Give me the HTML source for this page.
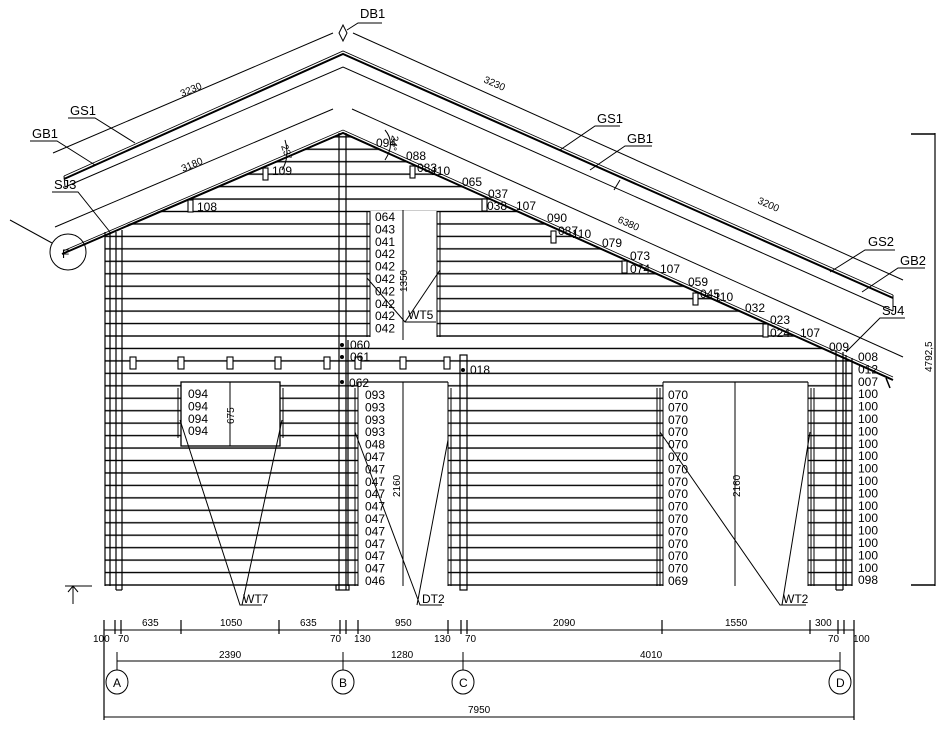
<!DOCTYPE html>
<html><head><meta charset="utf-8"><style>
html,body{margin:0;padding:0;background:#fff;}
svg{display:block;}
text{font-family:"Liberation Sans",sans-serif;font-size:12px;fill:#000;}
.s{font-size:10px;}
</style></head><body>
<svg width="949" height="733" viewBox="0 0 949 733" xmlns="http://www.w3.org/2000/svg">
<defs>
<pattern id="logs" patternUnits="userSpaceOnUse" width="949" height="12.45" patternTransform="translate(0,585)">
<rect x="0" y="-0.7" width="949" height="1.4" fill="#000"/>
<rect x="0" y="11.75" width="949" height="1.4" fill="#000"/>
</pattern>
<clipPath id="wall"><polygon points="105,586 105,234 343,133 852,361 852,586"/></clipPath>
</defs>
<g fill="none" stroke="#000" stroke-width="1">
<rect x="100" y="120" width="760" height="470" fill="url(#logs)" stroke="none" clip-path="url(#wall)"/>
<rect x="181" y="382" width="99" height="64" fill="#fff" stroke="#000" stroke-width="1.3"/>
<rect x="358" y="382" width="90" height="204" fill="#fff" stroke="none"/>
<line x1="358" y1="382" x2="448" y2="382" stroke-width="1.3"/>
<rect x="370" y="211" width="67" height="126" fill="#fff" stroke="none"/>
<rect x="663" y="382" width="145" height="204" fill="#fff" stroke="none"/>
<line x1="663" y1="382" x2="808" y2="382" stroke-width="1.3"/>
<line x1="178" y1="388" x2="178" y2="438"/><line x1="181" y1="388" x2="181" y2="446"/>
<line x1="280" y1="388" x2="280" y2="446"/><line x1="283" y1="388" x2="283" y2="438"/>
<line x1="355" y1="388" x2="355" y2="586"/><line x1="358" y1="382" x2="358" y2="586"/>
<line x1="448" y1="382" x2="448" y2="586"/><line x1="451" y1="388" x2="451" y2="586"/>
<line x1="367" y1="211" x2="367" y2="337"/><line x1="370" y1="211" x2="370" y2="337"/>
<line x1="437" y1="211" x2="437" y2="337"/><line x1="440" y1="211" x2="440" y2="337"/>
<line x1="657" y1="388" x2="657" y2="586"/><line x1="660" y1="388" x2="660" y2="586"/><line x1="663" y1="382" x2="663" y2="586"/>
<line x1="808" y1="382" x2="808" y2="586"/><line x1="811" y1="388" x2="811" y2="586"/><line x1="814" y1="388" x2="814" y2="586"/>
<g stroke-width="1.2">
<line x1="105" y1="232" x2="105" y2="586"/><line x1="110" y1="232" x2="110" y2="586"/><line x1="116" y1="232" x2="116" y2="590"/><line x1="122" y1="230" x2="122" y2="590"/>
<line x1="116" y1="590" x2="122" y2="590"/>
<line x1="339" y1="133" x2="339" y2="590"/><line x1="346" y1="133" x2="346" y2="590"/><line x1="348" y1="340" x2="348" y2="586"/>
<rect x="336" y="585" width="13" height="5"/>
<rect x="460" y="355" width="7" height="235"/>
<line x1="836" y1="350" x2="836" y2="590"/><line x1="843" y1="352" x2="843" y2="590"/><line x1="846" y1="355" x2="846" y2="586"/><line x1="852" y1="358" x2="852" y2="586"/>
<line x1="836" y1="590" x2="843" y2="590"/>
</g>
<g fill="#fff" stroke-width="1.1">
<rect x="130" y="357" width="6" height="12"/><rect x="178" y="357" width="6" height="12"/><rect x="227" y="357" width="6" height="12"/><rect x="275" y="357" width="6" height="12"/><rect x="324" y="357" width="6" height="12"/><rect x="355" y="357" width="6" height="12"/><rect x="400" y="357" width="6" height="12"/><rect x="444" y="357" width="6" height="12"/>
<rect x="188" y="200" width="5" height="12"/><rect x="263" y="168" width="5" height="12"/><rect x="410" y="166" width="5" height="12"/><rect x="482" y="199" width="5" height="12"/><rect x="551" y="231" width="5" height="12"/><rect x="622" y="261" width="5" height="12"/><rect x="693" y="293" width="5" height="12"/><rect x="763" y="324" width="5" height="13"/>
</g>
<g fill="#000" stroke="none"><circle cx="342" cy="345" r="2"/><circle cx="342" cy="357" r="2"/><circle cx="342" cy="382" r="2"/><circle cx="463" cy="370" r="2"/></g>
<!-- roof -->
<polyline points="62,254 343,133 893,380" stroke-width="2"/>
<polyline points="63,251 343,130 893,377" stroke-width="0.8"/>
<polyline points="64,179 343,54 893,298" stroke-width="2"/>
<polyline points="64,176 343,51 893,295" stroke-width="0.8"/>
<polyline points="65,187 343,67 893,311"/>
<line x1="64" y1="176" x2="65" y2="187"/><line x1="893" y1="295" x2="893" y2="311"/>
<line x1="886" y1="378" x2="890" y2="388" stroke-width="1.5"/>
<line x1="53" y1="153" x2="333" y2="33"/><line x1="353" y1="33" x2="903" y2="280"/>
<line x1="55" y1="227" x2="333" y2="109"/><line x1="352" y1="109" x2="903" y2="357"/>
<line x1="614" y1="190" x2="620" y2="180"/>
<path d="M285,140 Q290,157 282,170"/><path d="M385,130 Q396,143 385,160"/>
<polygon points="343,25 347,33 343,41 339,33"/>
<polyline points="347,30 358,23 382,23"/>
<polyline points="68,118 95,118 135,143"/>
<polyline points="30,141 57,141 95,165"/>
<polyline points="52,192 78,192 110,232"/>
<circle cx="68" cy="252" r="18"/>
<line x1="10" y1="220" x2="52" y2="243"/>
<polyline points="620,126 595,126 560,150"/>
<polyline points="652,146 625,146 590,170"/>
<polyline points="895,250 865,250 830,272"/>
<polyline points="925,268 898,268 862,292"/>
<polyline points="905,318 880,318 846,352"/>
<polyline points="180,420 240,605 262,605"/><line x1="282" y1="420" x2="242" y2="605"/>
<polyline points="355,432 420,605 442,605"/><line x1="448" y1="440" x2="417" y2="605"/>
<polyline points="660,432 780,605 806,605"/><line x1="810" y1="432" x2="782" y2="605"/>
<polyline points="367,278 405,322 436,322"/><line x1="440" y1="270" x2="405" y2="322"/>
<line x1="230" y1="382" x2="230" y2="446"/>
<line x1="403" y1="210" x2="403" y2="340"/>
<line x1="403" y1="382" x2="403" y2="586"/>
<line x1="735" y1="382" x2="735" y2="586"/>
<line x1="935" y1="133" x2="935" y2="586" stroke-width="1.2"/>
<line x1="911" y1="134" x2="935" y2="134" stroke-width="1.5"/>
<line x1="911" y1="585" x2="935" y2="585" stroke-width="1.5"/>
<line x1="65" y1="586" x2="92" y2="586"/><line x1="73" y1="586" x2="73" y2="604"/><polyline points="68,592 73,586 78,592"/>
<line x1="104" y1="630" x2="854" y2="630"/>
<g stroke-width="1.2">
<line x1="104" y1="620" x2="104" y2="720"/><line x1="115" y1="620" x2="115" y2="634"/><line x1="121" y1="620" x2="121" y2="634"/><line x1="181" y1="620" x2="181" y2="634"/><line x1="279" y1="620" x2="279" y2="634"/><line x1="340" y1="620" x2="340" y2="634"/><line x1="346" y1="620" x2="346" y2="634"/><line x1="358" y1="620" x2="358" y2="634"/><line x1="448" y1="620" x2="448" y2="634"/><line x1="461" y1="620" x2="461" y2="634"/><line x1="467" y1="620" x2="467" y2="634"/><line x1="662" y1="620" x2="662" y2="634"/><line x1="810" y1="620" x2="810" y2="634"/><line x1="838" y1="620" x2="838" y2="634"/><line x1="844" y1="620" x2="844" y2="634"/><line x1="854" y1="620" x2="854" y2="720"/>
</g>
<line x1="117" y1="661" x2="840" y2="661"/>
<line x1="117" y1="652" x2="117" y2="670"/><line x1="343" y1="652" x2="343" y2="670"/><line x1="463" y1="652" x2="463" y2="670"/><line x1="840" y1="652" x2="840" y2="670"/>
<ellipse cx="117" cy="682" rx="11" ry="12"/><ellipse cx="343" cy="682" rx="11" ry="12"/><ellipse cx="463" cy="682" rx="11" ry="12"/><ellipse cx="840" cy="682" rx="11" ry="12"/>
<line x1="104" y1="717" x2="854" y2="717"/>
</g>
<g>
<text x="360" y="18" style="font-size:13px">DB1</text>
<text x="70" y="115" style="font-size:13px">GS1</text>
<text x="32" y="138" style="font-size:13px">GB1</text>
<text x="54" y="189" style="font-size:13px">SJ3</text>
<text x="62" y="258" style="font-size:12px">F</text>
<text x="597" y="123" style="font-size:13px">GS1</text>
<text x="627" y="143" style="font-size:13px">GB1</text>
<text x="868" y="246" style="font-size:13px">GS2</text>
<text x="900" y="265" style="font-size:13px">GB2</text>
<text x="882" y="315" style="font-size:13px">SJ4</text>
<text class="s" transform="translate(182,97) rotate(-23)">3230</text>
<text class="s" transform="translate(183,172) rotate(-23)">3180</text>
<text class="s" transform="translate(483,82) rotate(24)">3230</text>
<text class="s" transform="translate(617,222) rotate(24)">6380</text>
<text class="s" transform="translate(757,203) rotate(24)">3200</text>
<text class="s" transform="translate(281,146) rotate(70)">23°</text>
<text class="s" transform="translate(392,135) rotate(100)">24°</text>
<text class="s" transform="translate(932,372) rotate(-90)">4792,5</text>
<text x="376" y="147">094</text>
<text x="406" y="160">088</text>
<text x="417" y="172">083</text><text x="431" y="175">110</text>
<text x="462" y="186">065</text>
<text x="488" y="198">037</text>
<text x="487" y="210">038</text><text x="516" y="210">107</text>
<text x="547" y="222">090</text>
<text x="558" y="235">087</text><text x="572" y="238">110</text>
<text x="602" y="247">079</text>
<text x="630" y="260">073</text>
<text x="630" y="273">074</text><text x="660" y="273">107</text>
<text x="688" y="286">059</text>
<text x="700" y="298">045</text><text x="714" y="301">110</text>
<text x="745" y="312">032</text>
<text x="770" y="324">023</text>
<text x="770" y="337">024</text><text x="800" y="337">107</text>
<text x="829" y="351">009</text>
<text x="197" y="211">108</text>
<text x="272" y="175">109</text>
<text x="375" y="221">064<tspan x="375" dy="12.4">043</tspan><tspan x="375" dy="12.4">041</tspan><tspan x="375" dy="12.4">042</tspan><tspan x="375" dy="12.4">042</tspan><tspan x="375" dy="12.4">042</tspan><tspan x="375" dy="12.4">042</tspan><tspan x="375" dy="12.4">042</tspan><tspan x="375" dy="12.4">042</tspan><tspan x="375" dy="12.4">042</tspan></text>
<text x="350" y="349">060</text><text x="350" y="361">061</text><text x="349" y="387">062</text><text x="470" y="374">018</text>
<text x="408" y="319">WT5</text>
<text x="188" y="398">094<tspan x="188" dy="12.4">094</tspan><tspan x="188" dy="12.4">094</tspan><tspan x="188" dy="12.4">094</tspan></text>
<text x="365" y="399">093<tspan x="365" dy="12.4">093</tspan><tspan x="365" dy="12.4">093</tspan><tspan x="365" dy="12.4">093</tspan><tspan x="365" dy="12.4">048</tspan><tspan x="365" dy="12.4">047</tspan><tspan x="365" dy="12.4">047</tspan><tspan x="365" dy="12.4">047</tspan><tspan x="365" dy="12.4">047</tspan><tspan x="365" dy="12.4">047</tspan><tspan x="365" dy="12.4">047</tspan><tspan x="365" dy="12.4">047</tspan><tspan x="365" dy="12.4">047</tspan><tspan x="365" dy="12.4">047</tspan><tspan x="365" dy="12.4">047</tspan><tspan x="365" dy="12.4">046</tspan></text>
<text x="668" y="399">070<tspan x="668" dy="12.4">070</tspan><tspan x="668" dy="12.4">070</tspan><tspan x="668" dy="12.4">070</tspan><tspan x="668" dy="12.4">070</tspan><tspan x="668" dy="12.4">070</tspan><tspan x="668" dy="12.4">070</tspan><tspan x="668" dy="12.4">070</tspan><tspan x="668" dy="12.4">070</tspan><tspan x="668" dy="12.4">070</tspan><tspan x="668" dy="12.4">070</tspan><tspan x="668" dy="12.4">070</tspan><tspan x="668" dy="12.4">070</tspan><tspan x="668" dy="12.4">070</tspan><tspan x="668" dy="12.4">070</tspan><tspan x="668" dy="12.4">069</tspan></text>
<text x="858" y="361">008<tspan x="858" dy="12.4">012</tspan><tspan x="858" dy="12.4">007</tspan><tspan x="858" dy="12.4">100</tspan><tspan x="858" dy="12.4">100</tspan><tspan x="858" dy="12.4">100</tspan><tspan x="858" dy="12.4">100</tspan><tspan x="858" dy="12.4">100</tspan><tspan x="858" dy="12.4">100</tspan><tspan x="858" dy="12.4">100</tspan><tspan x="858" dy="12.4">100</tspan><tspan x="858" dy="12.4">100</tspan><tspan x="858" dy="12.4">100</tspan><tspan x="858" dy="12.4">100</tspan><tspan x="858" dy="12.4">100</tspan><tspan x="858" dy="12.4">100</tspan><tspan x="858" dy="12.4">100</tspan><tspan x="858" dy="12.4">100</tspan><tspan x="858" dy="12.4">098</tspan></text>
<text class="s" transform="translate(234,424) rotate(-90)">675</text>
<text class="s" transform="translate(407,292) rotate(-90)">1350</text>
<text class="s" transform="translate(400,497) rotate(-90)">2160</text>
<text class="s" transform="translate(740,497) rotate(-90)">2160</text>
<text x="243" y="603">WT7</text><text x="422" y="603">DT2</text><text x="783" y="603">WT2</text>
<text class="s" x="142" y="626">635</text><text class="s" x="220" y="626">1050</text><text class="s" x="300" y="626">635</text><text class="s" x="395" y="626">950</text><text class="s" x="553" y="626">2090</text><text class="s" x="725" y="626">1550</text><text class="s" x="815" y="626">300</text>
<text class="s" x="93" y="642">100</text><text class="s" x="118" y="642">70</text><text class="s" x="330" y="642">70</text><text class="s" x="354" y="642">130</text><text class="s" x="434" y="642">130</text><text class="s" x="465" y="642">70</text><text class="s" x="828" y="642">70</text><text class="s" x="853" y="642">100</text>
<text class="s" x="219" y="658">2390</text><text class="s" x="391" y="658">1280</text><text class="s" x="640" y="658">4010</text>
<text class="s" x="468" y="713">7950</text>
<text x="113" y="687">A</text><text x="339" y="687">B</text><text x="459" y="687">C</text><text x="836" y="687">D</text>
</g>
</svg>
</body></html>
